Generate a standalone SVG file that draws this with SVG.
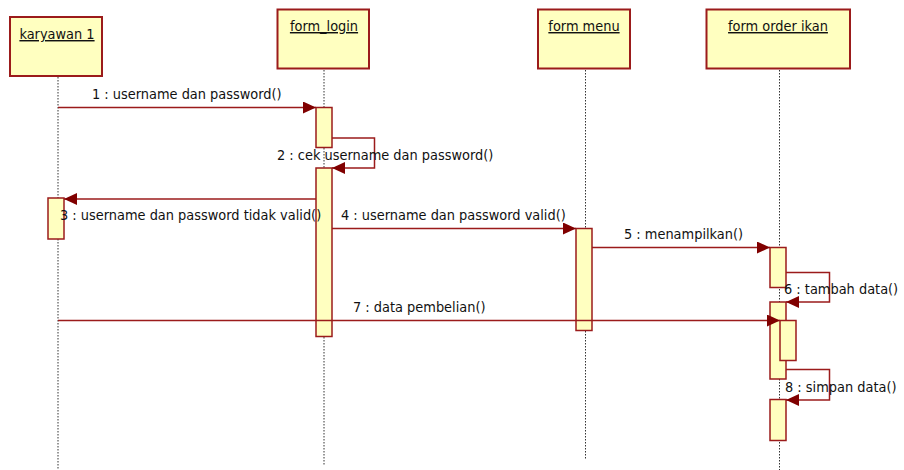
<svg xmlns="http://www.w3.org/2000/svg" width="904" height="470" viewBox="0 0 904 470">
<style>
.obj{fill:#FFFFC0;stroke:#9B1B1B;stroke-width:2}
.act{fill:#FFFFC0;stroke:#9B1B1B;stroke-width:1.5}
.life{stroke:#333;stroke-width:1;stroke-dasharray:1.5 1.5;fill:none}
.msg{stroke:#9B1B1B;stroke-width:1.5;fill:none}
text{font-family:"DejaVu Sans Condensed","Liberation Sans Narrow","Liberation Sans",sans-serif;font-size:14.4px;fill:#111}
.nm{text-decoration:underline;text-anchor:middle}
</style>
<defs>
<marker id="ah" markerWidth="14" markerHeight="12" refX="13" refY="6" orient="auto" markerUnits="userSpaceOnUse">
<path d="M0,0 L13,6 L0,12 Z" fill="#800000"/>
</marker>
</defs>
<g id="lifelines">
<line class="life" x1="58" y1="77" x2="58" y2="470"/>
<line class="life" x1="324" y1="70" x2="324" y2="466"/>
<line class="life" x1="585.5" y1="70" x2="585.5" y2="460"/>
<line class="life" x1="779.5" y1="70" x2="779.5" y2="470"/>
</g>
<g id="karyawan">
<rect class="obj" x="10" y="17" width="92" height="59"/>
<text class="nm" x="57" y="39">karyawan 1</text>
</g>
<g id="form_login">
<rect class="obj" x="277.5" y="9.5" width="91.5" height="59"/>
<text class="nm" x="324" y="31">form_login</text>
</g>
<g id="form_menu">
<rect class="obj" x="538" y="9.5" width="92" height="59"/>
<text class="nm" x="584" y="31">form menu</text>
</g>
<g id="form_order_ikan">
<rect class="obj" x="706.5" y="9.5" width="143.5" height="59"/>
<text class="nm" x="778" y="31">form order ikan</text>
</g>
<g id="activations">
<rect class="act" x="316" y="107.5" width="16" height="40"/>
<rect class="act" x="316" y="168" width="16" height="168.5"/>
<rect class="act" x="48" y="198" width="16" height="41"/>
<rect class="act" x="576" y="228.5" width="16" height="102"/>
<rect class="act" x="770" y="247.5" width="16" height="40"/>
<rect class="act" x="770" y="302" width="16" height="77"/>
<rect class="act" x="770" y="399.5" width="16" height="41"/>
</g>
<g id="connectors">
<line class="msg" x1="58" y1="107.5" x2="316" y2="107.5" marker-end="url(#ah)"/>
<polyline class="msg" points="332,138 374.5,138 374.5,168 332,168" marker-end="url(#ah)"/>
<line class="msg" x1="316" y1="199" x2="64" y2="199" marker-end="url(#ah)"/>
<line class="msg" x1="332" y1="228.5" x2="576" y2="228.5" marker-end="url(#ah)"/>
<line class="msg" x1="592" y1="247.5" x2="770" y2="247.5" marker-end="url(#ah)"/>
<polyline class="msg" points="786,272.5 829.5,272.5 829.5,302 786,302" marker-end="url(#ah)"/>
<line class="msg" x1="58" y1="320.5" x2="780" y2="320.5" marker-end="url(#ah)"/>
<polyline class="msg" points="786,369.5 829.5,369.5 829.5,400 786,400" marker-end="url(#ah)"/>
</g>
<g id="nested_activation">
<rect class="act" x="780" y="320.5" width="16" height="40"/>
</g>
<g id="labels">
<text x="92" y="99">1 : username dan password()</text>
<text x="277" y="160">2 : cek username dan password()</text>
<text x="60" y="220">3 : username dan password tidak valid()</text>
<text x="341" y="220">4 : username dan password valid()</text>
<text x="624" y="239">5 : menampilkan()</text>
<text x="784" y="293.5">6 : tambah data()</text>
<text x="353" y="312">7 : data pembelian()</text>
<text x="785" y="392">8 : simpan data()</text>
</g>
</svg>
